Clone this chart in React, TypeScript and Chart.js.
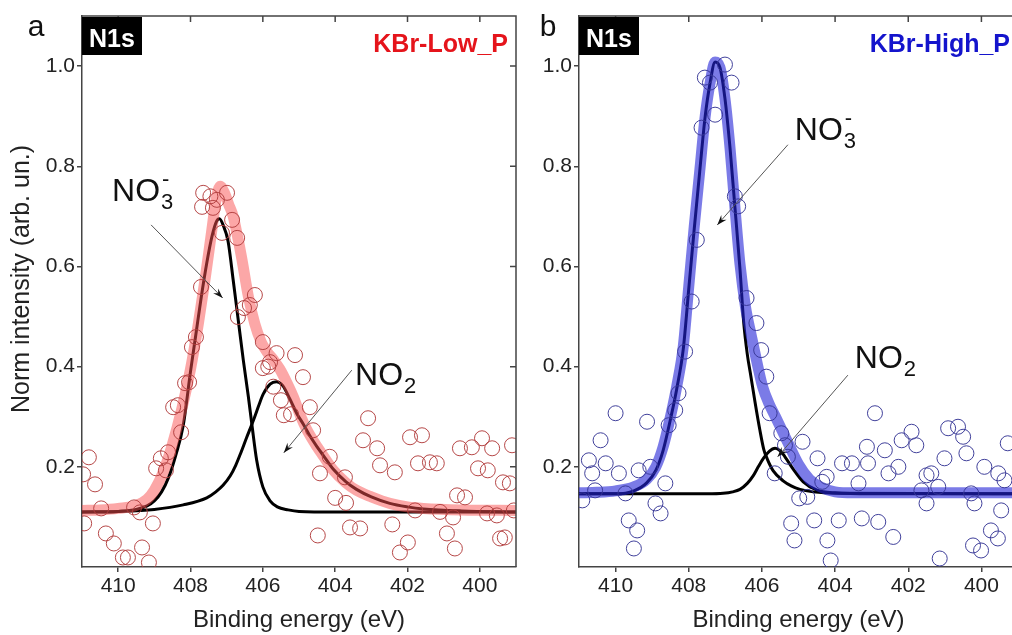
import React, { useEffect, useRef } from "react";
import { Chart, registerables } from "chart.js";

Chart.register(...registerables);

type Pt = [number, number];
const FONT = "'Liberation Sans', Arial, Helvetica, sans-serif";

const energyTicks: number[] = [410, 408, 406, 404, 402, 400];
const intensityTicks: number[] = [0.2, 0.4, 0.6, 0.8, 1.0];

// ---------- Panel a : KBr-Low_P ----------
const lowPoints: Pt[] = [
  [410.97, 0.185], [410.81, 0.219], [410.64, 0.165], [410.47, 0.117], [410.94, 0.087], [410.34, 0.067],
  [410.12, 0.047], [409.87, 0.019], [409.73, 0.019], [409.56, 0.119], [409.40, 0.109], [409.34, 0.039],
  [409.15, 0.009], [409.04, 0.087], [408.95, 0.197], [408.82, 0.217], [408.68, 0.193], [408.62, 0.229],
  [408.48, 0.319], [408.35, 0.323], [408.26, 0.269], [408.15, 0.367], [408.04, 0.369], [407.96, 0.439],
  [407.85, 0.459], [407.71, 0.559], [407.68, 0.719], [407.65, 0.747], [407.45, 0.740], [407.38, 0.717],
  [407.27, 0.733], [407.13, 0.667], [406.99, 0.747], [406.85, 0.693], [406.71, 0.657], [406.69, 0.499],
  [406.52, 0.517], [406.36, 0.523], [406.22, 0.543], [406.00, 0.449], [406.00, 0.397], [405.85, 0.400],
  [405.80, 0.409], [405.62, 0.427], [405.71, 0.360], [405.50, 0.333], [405.42, 0.303], [405.22, 0.305],
  [405.11, 0.423], [404.89, 0.379], [404.70, 0.319], [404.61, 0.273], [404.48, 0.063], [404.42, 0.187],
  [404.15, 0.220], [404.00, 0.138], [403.73, 0.179], [403.70, 0.128], [403.59, 0.079], [403.31, 0.077],
  [403.23, 0.253], [403.09, 0.297], [402.84, 0.237], [402.76, 0.203], [402.42, 0.085], [402.35, 0.189],
  [402.21, 0.029], [401.99, 0.049], [401.93, 0.259], [401.79, 0.113], [401.71, 0.207], [401.60, 0.263],
  [401.38, 0.209], [401.19, 0.207], [401.10, 0.110], [400.91, 0.067], [400.74, 0.099], [400.69, 0.037],
  [400.63, 0.143], [400.55, 0.237], [400.41, 0.139], [400.22, 0.239], [400.05, 0.197], [399.94, 0.257],
  [399.80, 0.107], [399.78, 0.193], [399.66, 0.237], [399.53, 0.103], [399.44, 0.057], [399.36, 0.169],
  [399.31, 0.059], [399.17, 0.167], [399.11, 0.243], [399.06, 0.113],
];

const lowEnvelope: Pt[] = [
  [411, 0.113], [410.5, 0.114], [410, 0.117], [409.5, 0.123], [409.2, 0.135], [409, 0.153], [408.75, 0.19],
  [408.5, 0.245], [408.25, 0.313], [408, 0.395], [407.78, 0.487], [407.6, 0.573], [407.41, 0.673],
  [407.3, 0.73], [407.18, 0.76], [407.05, 0.745], [406.95, 0.725], [406.82, 0.7], [406.7, 0.66],
  [406.58, 0.615], [406.4, 0.54], [406.22, 0.485], [406.05, 0.45], [405.89, 0.43], [405.7, 0.413],
  [405.53, 0.395], [405.35, 0.37], [405.16, 0.34], [404.95, 0.3], [404.79, 0.275], [404.5, 0.24],
  [404.33, 0.222], [404.05, 0.193], [403.7, 0.168], [403.41, 0.153], [403, 0.14], [402.49, 0.127],
  [402, 0.12], [401.56, 0.117], [400.5, 0.114], [399, 0.113],
];

const lowNO3: Pt[] = [
  [411, 0.11], [410.5, 0.11], [410, 0.111], [409.5, 0.115], [409.2, 0.122], [409, 0.132], [408.8, 0.15],
  [408.6, 0.18], [408.4, 0.225], [408.2, 0.283], [408, 0.39], [407.85, 0.465], [407.7, 0.54],
  [407.55, 0.607], [407.4, 0.662], [407.28, 0.69], [407.2, 0.695], [407.1, 0.683], [406.96, 0.65],
  [406.82, 0.573], [406.68, 0.493], [406.54, 0.413], [406.4, 0.34], [406.3, 0.283], [406.17, 0.213],
  [406, 0.16], [405.8, 0.132], [405.6, 0.12], [405.3, 0.114], [405, 0.111], [404, 0.11], [399, 0.11],
];

const lowNO2: Pt[] = [
  [411, 0.11], [410, 0.111], [409, 0.115], [408.2, 0.124], [407.55, 0.138], [407.3, 0.15], [407.1, 0.163],
  [406.9, 0.182], [406.75, 0.203], [406.63, 0.224], [406.45, 0.258], [406.26, 0.293], [406.1, 0.325],
  [405.99, 0.345], [405.8, 0.365], [405.62, 0.37], [405.45, 0.362], [405.25, 0.335], [405.05, 0.305],
  [404.88, 0.285], [404.7, 0.262], [404.5, 0.24], [404.33, 0.223], [404.05, 0.195], [403.7, 0.17],
  [403.41, 0.155], [403, 0.14], [402.49, 0.127], [402, 0.12], [401.56, 0.116], [400.5, 0.112], [399, 0.11],
];

// ---------- Panel b : KBr-High_P ----------
const highPoints: Pt[] = [
  [407.01, 1.003], [406.83, 0.967], [407.56, 0.977], [407.42, 0.967], [407.28, 0.903], [407.65, 0.877],
  [406.74, 0.740], [406.65, 0.720], [407.78, 0.653], [407.92, 0.530], [406.42, 0.537], [406.15, 0.487],
  [408.10, 0.430], [406.02, 0.433], [405.88, 0.380], [408.28, 0.347], [408.37, 0.313], [408.55, 0.283],
  [405.79, 0.307], [410.00, 0.307], [409.14, 0.290], [410.41, 0.253], [405.47, 0.267], [410.73, 0.213],
  [410.27, 0.207], [409.91, 0.187], [410.64, 0.187], [409.37, 0.193], [409.05, 0.200], [408.64, 0.167],
  [410.91, 0.133], [409.73, 0.147], [408.91, 0.127], [408.77, 0.107], [409.64, 0.093], [409.41, 0.073],
  [409.50, 0.037], [405.65, 0.187], [405.29, 0.220], [405.20, 0.087], [405.11, 0.053], [410.56, 0.153],
  [404.98, 0.137], [404.76, 0.140], [404.89, 0.250], [404.48, 0.217], [404.57, 0.093], [404.21, 0.053],
  [404.12, 0.013], [404.35, 0.170], [403.90, 0.093], [403.81, 0.207], [403.54, 0.207], [403.36, 0.167],
  [403.27, 0.097], [403.13, 0.240], [402.91, 0.307], [402.82, 0.090], [402.64, 0.233], [402.54, 0.187],
  [402.41, 0.060], [402.27, 0.200], [402.18, 0.253], [401.91, 0.270], [401.78, 0.243], [401.64, 0.153],
  [401.50, 0.127], [401.37, 0.187], [401.14, 0.017], [401.01, 0.217], [400.91, 0.277], [400.64, 0.280],
  [400.50, 0.260], [400.41, 0.227], [400.28, 0.147], [400.19, 0.127], [400.01, 0.033], [399.92, 0.200],
  [399.74, 0.073], [399.55, 0.057], [399.46, 0.113], [399.37, 0.173], [399.28, 0.247], [403.10, 0.207],
  [401.50, 0.183], [401.18, 0.160], [399.54, 0.187], [400.23, 0.043], [405.37, 0.243], [404.23, 0.180],
];

const highEnvelope: Pt[] = [
  [411, 0.148], [410.5, 0.149], [410, 0.152], [409.5, 0.16], [409.15, 0.175], [408.9, 0.2], [408.7, 0.24],
  [408.5, 0.3], [408.33, 0.36], [408.15, 0.44], [408, 0.56], [407.85, 0.68], [407.7, 0.79], [407.55, 0.9],
  [407.42, 0.965], [407.28, 1.008], [407.15, 0.998], [407.01, 0.935], [406.87, 0.835], [406.74, 0.72],
  [406.6, 0.605], [406.45, 0.52], [406.3, 0.465], [406.14, 0.41], [405.98, 0.36], [405.8, 0.325],
  [405.63, 0.3], [405.3, 0.25], [405, 0.205], [404.7, 0.175], [404.4, 0.16], [404, 0.15], [403.5, 0.148],
  [399, 0.148],
];

const highNO3: Pt[] = [
  [411, 0.146], [410, 0.146], [409.5, 0.152], [409.15, 0.168], [408.9, 0.193], [408.7, 0.233],
  [408.5, 0.295], [408.33, 0.355], [408.15, 0.435], [408, 0.555], [407.85, 0.675], [407.7, 0.79],
  [407.55, 0.9], [407.42, 0.965], [407.28, 1.008], [407.15, 0.998], [407.01, 0.935], [406.87, 0.835],
  [406.74, 0.72], [406.6, 0.595], [406.5, 0.49], [406.4, 0.425], [406.3, 0.38], [406.19, 0.33],
  [406.06, 0.275], [405.95, 0.235], [405.85, 0.215], [405.69, 0.192], [405.42, 0.172], [405.2, 0.162],
  [404.96, 0.155], [404.6, 0.15], [404, 0.147], [399, 0.146],
];

const highNO2: Pt[] = [
  [411, 0.146], [407.5, 0.146], [407.06, 0.147], [406.8, 0.15], [406.6, 0.155], [406.4, 0.167],
  [406.24, 0.182], [406.1, 0.2], [405.96, 0.217], [405.8, 0.231], [405.64, 0.237], [405.5, 0.232],
  [405.37, 0.22], [405.14, 0.195], [404.87, 0.17], [404.51, 0.154], [404, 0.148], [403, 0.146], [399, 0.146],
];

interface Panel {
  key: string;
  letter: string;
  letterX: number;
  sample: string;
  sampleColor: string;
  points: Pt[];
  envelope: Pt[];
  no3: Pt[];
  no2: Pt[];
  pointColor: string;
  bandColor: string;
  no3Label: Pt;
  no3Arrow: [Pt, Pt];
  no2Label: Pt;
  no2Arrow: [Pt, Pt];
  yTitle: boolean;
  canvasLeft: number;
  canvasWidth: number;
  yAxisWidth: number;
  padRight: number;
}

const panelA: Panel = {
  key: "a",
  letter: "a",
  letterX: 36,
  sample: "KBr-Low_P",
  sampleColor: "#e5141b",
  points: lowPoints,
  envelope: lowEnvelope,
  no3: lowNO3,
  no2: lowNO2,
  pointColor: "rgba(178,62,62,0.95)",
  bandColor: "rgba(250,80,80,0.5)",
  no3Label: [410.17, 0.73],
  no3Arrow: [[409.09, 0.683], [407.11, 0.537]],
  no2Label: [403.45, 0.363],
  no2Arrow: [[403.54, 0.393], [405.42, 0.228]],
  yTitle: true,
  canvasLeft: 0,
  canvasWidth: 530,
  yAxisWidth: 82,
  padRight: 14,
};

const panelB: Panel = {
  key: "b",
  letter: "b",
  letterX: 18,
  sample: "KBr-High_P",
  sampleColor: "#1414cc",
  points: highPoints,
  envelope: highEnvelope,
  no3: highNO3,
  no2: highNO2,
  pointColor: "rgba(55,55,150,0.95)",
  bandColor: "rgba(35,35,215,0.6)",
  no3Label: [405.1, 0.853],
  no3Arrow: [[405.29, 0.843], [407.22, 0.683]],
  no2Label: [403.46, 0.397],
  no2Arrow: [[403.65, 0.383], [405.57, 0.22]],
  yTitle: false,
  canvasLeft: 530,
  canvasWidth: 500,
  yAxisWidth: 49,
  padRight: 12,
};

function toXY(arr: Pt[]) {
  return arr.map(([x, y]) => ({ x, y }));
}

function drawChem(ctx: CanvasRenderingContext2D, x: number, y: number, sub: string, minus: boolean) {
  ctx.fillStyle = "#111";
  ctx.textAlign = "left";
  ctx.textBaseline = "alphabetic";
  ctx.font = `32px ${FONT}`;
  ctx.fillText("NO", x, y);
  const w = ctx.measureText("NO").width;
  ctx.font = `22px ${FONT}`;
  ctx.fillText(sub, x + w + 1, y + 8);
  if (minus) {
    ctx.font = `22px ${FONT}`;
    ctx.fillText("-", x + w + 2, y - 15);
  }
}

function drawArrow(ctx: CanvasRenderingContext2D, x1: number, y1: number, x2: number, y2: number) {
  ctx.strokeStyle = "#555";
  ctx.lineWidth = 1;
  ctx.beginPath();
  ctx.moveTo(x1, y1);
  ctx.lineTo(x2, y2);
  ctx.stroke();
  const ang = Math.atan2(y2 - y1, x2 - x1);
  const L = 10;
  const W = 3.5;
  const c = Math.cos(ang);
  const s = Math.sin(ang);
  ctx.fillStyle = "#111";
  ctx.beginPath();
  ctx.moveTo(x2, y2);
  ctx.lineTo(x2 - L * c + W * s, y2 - L * s - W * c);
  ctx.lineTo(x2 - 0.65 * L * c, y2 - 0.65 * L * s);
  ctx.lineTo(x2 - L * c - W * s, y2 - L * s + W * c);
  ctx.closePath();
  ctx.fill();
}

function makeDecor(p: Panel) {
  return {
    id: "decor" + p.key,
    afterDraw(chart: any) {
      const ctx: CanvasRenderingContext2D = chart.ctx;
      const a = chart.chartArea;
      const xs = chart.scales.x;
      const ys = chart.scales.y;
      ctx.save();
      // top and right frame with inward ticks
      ctx.strokeStyle = "#444";
      ctx.lineWidth = 1.5;
      ctx.beginPath();
      ctx.moveTo(a.left, a.top);
      ctx.lineTo(a.right, a.top);
      ctx.lineTo(a.right, a.bottom);
      ctx.stroke();
      ctx.beginPath();
      for (const t of energyTicks) {
        const px = xs.getPixelForValue(t);
        ctx.moveTo(px, a.top);
        ctx.lineTo(px, a.top + 6);
      }
      for (const t of intensityTicks) {
        const py = ys.getPixelForValue(t);
        ctx.moveTo(a.right, py);
        ctx.lineTo(a.right - 6, py);
      }
      ctx.stroke();

      // N1s box
      ctx.fillStyle = "#000";
      ctx.fillRect(a.left, a.top + 1, 60, 38);
      ctx.fillStyle = "#fff";
      ctx.font = `bold 25px ${FONT}`;
      ctx.textAlign = "center";
      ctx.textBaseline = "alphabetic";
      ctx.fillText("N1s", a.left + 30, a.top + 31);

      // sample label
      ctx.fillStyle = p.sampleColor;
      ctx.font = `bold 25px ${FONT}`;
      ctx.textAlign = "right";
      ctx.fillText(p.sample, a.right - 8, a.top + 36);

      // panel letter
      ctx.fillStyle = "#111";
      ctx.font = `30px ${FONT}`;
      ctx.textAlign = "center";
      ctx.fillText(p.letter, p.letterX, 36);

      // y title
      if (p.yTitle) {
        ctx.save();
        ctx.translate(22, 279);
        ctx.rotate(-Math.PI / 2);
        ctx.fillStyle = "#222";
        ctx.font = `25px ${FONT}`;
        ctx.textAlign = "center";
        ctx.textBaseline = "middle";
        ctx.fillText("Norm intensity (arb. un.)", 0, 0);
        ctx.restore();
      }

      // annotations
      const X = (v: number) => xs.getPixelForValue(v);
      const Y = (v: number) => ys.getPixelForValue(v);
      drawArrow(ctx, X(p.no3Arrow[0][0]), Y(p.no3Arrow[0][1]), X(p.no3Arrow[1][0]), Y(p.no3Arrow[1][1]));
      drawArrow(ctx, X(p.no2Arrow[0][0]), Y(p.no2Arrow[0][1]), X(p.no2Arrow[1][0]), Y(p.no2Arrow[1][1]));
      drawChem(ctx, X(p.no3Label[0]), Y(p.no3Label[1]), "3", true);
      drawChem(ctx, X(p.no2Label[0]), Y(p.no2Label[1]), "2", false);
      ctx.restore();
    },
  };
}

function PanelChart({ p }: { p: Panel }) {
  const ref = useRef<HTMLCanvasElement>(null);
  useEffect(() => {
    const canvas = ref.current;
    if (!canvas) return;
    const tickFont = { family: FONT, size: 21 };
    const axisGrid = { drawOnChartArea: false, drawTicks: true, tickLength: 5, color: "#444", lineWidth: 1.5 };
    const axisBorder = { display: true, color: "#444", width: 1.5 };
    const chart = new Chart(canvas, {
      type: "scatter",
      data: {
        datasets: [
          {
            label: "data",
            data: toXY(p.points),
            order: 0,
            showLine: false,
            pointRadius: 7.5,
            pointBorderWidth: 1,
            pointBorderColor: p.pointColor,
            pointBackgroundColor: "rgba(0,0,0,0)",
            clip: 0,
          },
          {
            label: "envelope",
            data: toXY(p.envelope),
            order: 1,
            showLine: true,
            pointRadius: 0,
            borderWidth: 11,
            borderColor: p.bandColor,
            cubicInterpolationMode: "monotone",
            borderJoinStyle: "round",
            fill: false,
            clip: 0,
          },
          {
            label: "NO3-",
            data: toXY(p.no3),
            order: 2,
            showLine: true,
            pointRadius: 0,
            borderWidth: 3,
            borderColor: "#000",
            cubicInterpolationMode: "monotone",
            borderJoinStyle: "round",
            fill: false,
            clip: 0,
          },
          {
            label: "NO2",
            data: toXY(p.no2),
            order: 3,
            showLine: true,
            pointRadius: 0,
            borderWidth: 3,
            borderColor: "#000",
            cubicInterpolationMode: "monotone",
            borderJoinStyle: "round",
            fill: false,
            clip: 0,
          },
        ],
      } as any,
      options: {
        responsive: false,
        animation: false,
        devicePixelRatio: 1,
        events: [],
        layout: { padding: { left: 0, top: 16, right: p.padRight, bottom: 0 } },
        plugins: { legend: { display: false }, tooltip: { enabled: false } },
        scales: {
          x: {
            type: "linear",
            position: "bottom",
            min: 399,
            max: 411,
            reverse: true,
            afterBuildTicks: (s: any) => {
              s.ticks = energyTicks.map((v) => ({ value: v }));
            },
            afterFit: (s: any) => {
              s.height = 68;
            },
            ticks: {
              font: tickFont,
              color: "#222",
              padding: 2,
              maxRotation: 0,
              autoSkip: false,
              callback: (v: any) => String(v),
            },
            grid: axisGrid,
            border: axisBorder,
            title: {
              display: true,
              text: "Binding energy (eV)",
              font: { family: FONT, size: 24 },
              color: "#222",
              padding: { top: 0, bottom: 0 },
            },
          },
          y: {
            type: "linear",
            position: "left",
            min: 0,
            max: 1.1,
            afterBuildTicks: (s: any) => {
              s.ticks = intensityTicks.map((v) => ({ value: v }));
            },
            afterFit: (s: any) => {
              s.width = p.yAxisWidth;
            },
            ticks: {
              font: tickFont,
              color: "#222",
              padding: 2,
              callback: (v: any) => Number(v).toFixed(1),
            },
            grid: axisGrid,
            border: axisBorder,
          },
        },
      } as any,
      plugins: [makeDecor(p)],
    });
    return () => chart.destroy();
  }, [p]);
  return (
    <canvas
      ref={ref}
      width={p.canvasWidth}
      height={635}
      style={{ position: "absolute", left: p.canvasLeft, top: 0, width: p.canvasWidth, height: 635 }}
    />
  );
}

export default function App() {
  return (
    <div
      style={{
        position: "fixed",
        left: 0,
        top: 0,
        width: 1012,
        height: 635,
        overflow: "hidden",
        background: "#fff",
      }}
    >
      <PanelChart p={panelA} />
      <PanelChart p={panelB} />
    </div>
  );
}
